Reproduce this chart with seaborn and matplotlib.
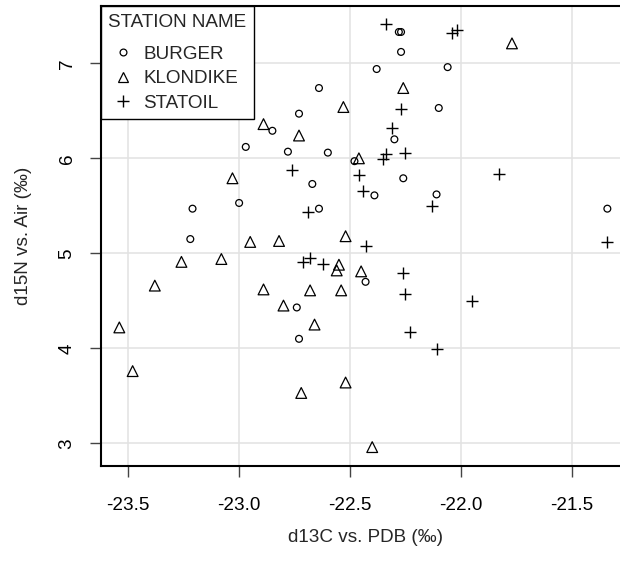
import numpy as np
import pandas as pd
import matplotlib
matplotlib.use("Agg")
import matplotlib.pyplot as plt
from matplotlib.lines import Line2D
import seaborn as sns

# Stable isotope values per station
burger_d13c = [-22.97, -22.28, -22.27, -22.27, -22.38, -22.30, -22.48, -22.64, -22.73,
               -22.85, -22.78, -22.60, -22.06, -22.10, -23.00, -23.21, -23.22, -22.67,
               -22.26, -22.39, -22.64, -22.43, -22.74, -22.11, -21.34, -22.73]
burger_d15n = [6.12, 7.33, 7.33, 7.12, 6.94, 6.20, 5.97, 6.74, 6.47,
               6.29, 6.07, 6.06, 6.96, 6.53, 5.53, 5.47, 5.15, 5.73,
               5.79, 5.61, 5.47, 4.70, 4.43, 5.62, 5.47, 4.10]

klondike_d13c = [-22.89, -22.26, -22.46, -22.53, -22.73, -21.77, -23.03, -22.95, -23.26,
                 -23.08, -23.38, -23.54, -22.89, -23.48, -22.82, -22.52, -22.55, -22.56,
                 -22.45, -22.68, -22.54, -22.80, -22.66, -22.52, -22.72, -22.40]
klondike_d15n = [6.36, 6.74, 6.00, 6.54, 6.24, 7.21, 5.79, 5.12, 4.91,
                 4.94, 4.66, 4.22, 4.62, 3.76, 5.13, 5.18, 4.88, 4.82,
                 4.81, 4.61, 4.61, 4.45, 4.25, 3.64, 3.53, 2.96]

statoil_d13c = [-22.34, -22.27, -22.31, -22.25, -22.34, -22.35, -22.76, -22.46, -22.04,
                -22.02, -22.44, -22.69, -22.43, -22.71, -22.68, -22.62, -22.26, -22.25,
                -22.23, -21.83, -22.13, -21.34, -21.95, -22.11]
statoil_d15n = [7.41, 6.52, 6.32, 6.06, 6.05, 5.99, 5.88, 5.82, 7.32,
                7.35, 5.66, 5.44, 5.08, 4.91, 4.95, 4.89, 4.79, 4.57,
                4.17, 5.84, 5.50, 5.12, 4.50, 3.99]

stations = ["BURGER", "KLONDIKE", "STATOIL"]
x_ticks = [-23.5, -23.0, -22.5, -22.0, -21.5]
x_tick_labels = ["-23.5", "-23.0", "-22.5", "-22.0", "-21.5"]
y_ticks = [3, 4, 5, 6, 7]

df = pd.concat([
    pd.DataFrame({"d13C": burger_d13c, "d15N": burger_d15n, "station": "BURGER"}),
    pd.DataFrame({"d13C": klondike_d13c, "d15N": klondike_d15n, "station": "KLONDIKE"}),
    pd.DataFrame({"d13C": statoil_d13c, "d15N": statoil_d15n, "station": "STATOIL"}),
], ignore_index=True)

FS = 13.6

sns.set_style("whitegrid", {
    "grid.color": "#e2e2e2",
    "axes.edgecolor": "black",
})
plt.rcParams["font.family"] = ["Liberation Sans", "DejaVu Sans"]
plt.rcParams["font.size"] = FS

fig = plt.figure(figsize=(6.2, 5.65), dpi=100)
ax = fig.add_axes([0.1624, 0.1757, 0.8537, 0.8136])

marker_style = {
    "BURGER": dict(marker="o", s=24),
    "KLONDIKE": dict(marker="^", s=60),
    "STATOIL": dict(marker="+", s=80),
}

for st in stations:
    sub = df[df["station"] == st]
    style = marker_style[st]
    if style["marker"] == "+":
        sns.scatterplot(data=sub, x="d13C", y="d15N", ax=ax, marker="+",
                        s=style["s"], color="black", linewidth=1.0, zorder=3)
    else:
        sns.scatterplot(data=sub, x="d13C", y="d15N", ax=ax, marker=style["marker"],
                        s=style["s"], facecolor="none", edgecolor="black",
                        linewidth=0.9, zorder=3)

ax.set_xlim(-23.624, -21.238)
ax.set_ylim(2.764, 7.603)
ax.set_xticks(x_ticks)
ax.set_xticklabels(x_tick_labels)
ax.set_yticks(y_ticks)
ax.set_yticklabels([str(v) for v in y_ticks], rotation=90, va="center")
ax.grid(True, color="#e2e2e2", linewidth=1.1)
ax.set_axisbelow(True)

ax.tick_params(axis="both", direction="out", length=8, width=1.0, color="#444444",
               labelsize=FS, labelcolor="black")
ax.tick_params(axis="x", pad=14.5)
ax.tick_params(axis="y", pad=10)
ax.xaxis.set_ticks_position("bottom")
ax.yaxis.set_ticks_position("left")

for side in ["left", "bottom", "top"]:
    ax.spines[side].set_visible(True)
    ax.spines[side].set_color("black")
    ax.spines[side].set_linewidth(1.5)
ax.spines["right"].set_visible(False)

ax.set_xlabel("d13C vs. PDB (‰)", fontsize=FS, labelpad=11)
ax.set_ylabel("d15N vs. Air (‰)", fontsize=FS, labelpad=19)

handles = [
    Line2D([], [], linestyle="none", marker="o", markersize=4.9,
           markerfacecolor="none", markeredgecolor="black", markeredgewidth=0.9),
    Line2D([], [], linestyle="none", marker="^", markersize=7.7,
           markerfacecolor="none", markeredgecolor="black", markeredgewidth=0.9),
    Line2D([], [], linestyle="none", marker="+", markersize=8.9,
           color="black", markeredgewidth=1.0),
]
leg = ax.legend(handles, stations, title="STATION NAME", loc="upper left",
                bbox_to_anchor=(0.0, 1.0), borderaxespad=0.0, frameon=True,
                fancybox=False, framealpha=1, edgecolor="black",
                fontsize=FS, title_fontsize=FS, alignment="left",
                handlelength=1.6, handletextpad=0.25, labelspacing=0.38,
                borderpad=0.4)
leg.get_frame().set_linewidth(1.0)
leg.set_zorder(5)
# extra room between the legend title and its entries
leg._legend_box.sep = 0.8 * FS

fig.savefig("out.png", dpi=100)
